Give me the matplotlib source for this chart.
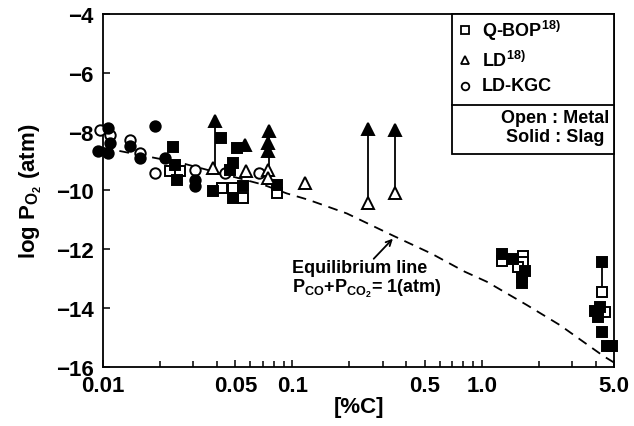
import matplotlib
matplotlib.use("Agg")
import matplotlib.pyplot as plt
from matplotlib.patches import Rectangle

plt.rcParams["font.family"] = ["Liberation Sans", "DejaVu Sans"]
plt.rcParams["font.weight"] = "bold"
plt.rcParams["mathtext.fontset"] = "custom"
plt.rcParams["mathtext.rm"] = "Liberation Sans:bold"
plt.rcParams["mathtext.bf"] = "Liberation Sans:bold"
plt.rcParams["mathtext.it"] = "Liberation Sans:bold"
plt.rcParams["mathtext.default"] = "rm"
plt.rcParams["lines.scale_dashes"] = False

# ---- data ----
# Q-BOP (squares)
qbop_open_x = [0.0226, 0.0255, 0.0425, 0.0485, 0.0548, 0.083,
               1.275, 1.646, 1.646, 1.549, 4.32, 4.5]
qbop_open_y = [-9.35, -9.35, -9.93, -9.93, -10.27, -10.10,
               -12.39, -12.22, -12.42, -12.59, -13.44, -14.13]
qbop_solid_x = [0.0234, 0.0240, 0.0246, 0.0381, 0.0419, 0.0485, 0.0510,
                0.0485, 0.0468, 0.0548, 0.083,
                1.275, 1.457, 1.686, 1.626, 1.626,
                4.32, 3.95, 4.2, 4.1, 4.32, 4.6, 4.9]
qbop_solid_y = [-8.53, -9.15, -9.63, -10.03, -8.23, -10.27, -8.57,
                -9.05, -9.32, -9.86, -9.83,
                -12.15, -12.32, -12.73, -12.93, -13.14,
                -12.42, -14.09, -13.96, -14.30, -14.81, -15.28, -15.28]

# LD (triangles)
ld_open_x = [0.038, 0.0568, 0.0742, 0.0742, 0.1166, 0.25, 0.35]
ld_open_y = [-9.25, -9.35, -9.32, -9.59, -9.76, -10.44, -10.10]
ld_solid_x = [0.039, 0.0562, 0.0751, 0.0742, 0.0742, 0.25, 0.35]
ld_solid_y = [-7.65, -8.47, -7.99, -8.40, -8.67, -7.92, -7.95]

# LD-KGC (circles)
kgc_open_x = [0.0096, 0.0109, 0.0139, 0.0157, 0.0188, 0.0306, 0.0440, 0.0665]
kgc_open_y = [-7.96, -8.13, -8.30, -8.74, -9.42, -9.32, -9.42, -9.42]
kgc_solid_x = [0.0106, 0.0109, 0.0094, 0.0106, 0.0139, 0.0157, 0.0188,
               0.0213, 0.0306, 0.0306]
kgc_solid_y = [-7.89, -8.40, -8.67, -8.74, -8.50, -8.91, -7.82,
               -8.91, -9.63, -9.86]

# metal/slag pairs joined by a vertical line: (x, top, bottom)
links = [(0.039, -7.65, -9.25), (0.0751, -7.99, -9.59),
         (0.25, -7.92, -10.44), (0.35, -7.95, -10.10),
         (4.32, -12.42, -13.44)]

# equilibrium line, P_CO + P_CO2 = 1 atm
eq_x = [0.01, 0.01185, 0.02644, 0.0699, 0.0935, 0.1207, 0.1539, 0.1939,
        0.339, 0.5446, 0.8135, 1.063, 1.728, 2.58, 4.40, 5.0]
eq_y = [-8.55, -8.64, -9.08, -9.80, -10.10, -10.31, -10.55, -10.78,
        -11.53, -12.15, -12.76, -13.10, -13.89, -14.57, -15.63, -15.85]

xticks = [0.01, 0.05, 0.1, 0.5, 1.0, 5.0]
xtick_labels = ["0.01", "0.05", "0.1", "0.5", "1.0", "5.0"]
yticks = [-16, -14, -12, -10, -8, -6, -4]

fig = plt.figure(figsize=(6.34, 4.27), dpi=100)
ax = fig.add_axes([0.1625, 0.1382, 0.806, 0.8267])

ax.plot(eq_x, eq_y, color="black", lw=1.3, dashes=(7, 5))

for x, top, bot in links:
    ax.plot([x, x], [top, bot], color="black", lw=1.3, zorder=2)

mk = dict(ls="none", mec="black", mew=1.4, clip_on=False, zorder=3)
ax.plot(kgc_open_x, kgc_open_y, marker="o", ms=7.5, mfc="white", **mk)
ax.plot(kgc_solid_x, kgc_solid_y, marker="o", ms=7.5, mfc="black", **mk)
ax.plot(qbop_open_x, qbop_open_y, marker="s", ms=7, mfc="white", **mk)
ax.plot(qbop_solid_x, qbop_solid_y, marker="s", ms=7, mfc="black", **mk)
ax.plot(ld_open_x, ld_open_y, marker="^", ms=8, mfc="white", **mk)
ax.plot(ld_solid_x, ld_solid_y, marker="^", ms=8, mfc="black", **mk)

ax.annotate("Equilibrium line", xy=(0.3475, -11.57), xytext=(0.1, -12.63),
            fontsize=13, va="center", ha="left")
ax.annotate("", xy=(0.3475, -11.57), xytext=(0.2627, -12.39),
            arrowprops=dict(arrowstyle="->", color="black", lw=1.3))
ax.text(0.1, -13.31, r"P$_{CO}$+P$_{CO_2}$= 1(atm)", fontsize=13,
        va="center", ha="left")

ax.set_xscale("log")
ax.set_xlim(0.01, 5.0)
ax.set_ylim(-16, -4)
ax.set_xticks(xticks, xtick_labels)
ax.set_yticks(yticks)
ax.tick_params(which="both", direction="in", labelsize=16, width=1.1)
ax.tick_params(which="major", length=5)
ax.tick_params(which="minor", length=4)
ax.tick_params(axis="x", pad=6)
ax.tick_params(axis="y", pad=7)
for s in ax.spines.values():
    s.set_linewidth(1.3)

ax.set_xlabel("[%C]", fontsize=16, fontweight="bold", labelpad=0)
ax.set_ylabel(r"log P$_{O_2}$ (atm)", fontsize=16, fontweight="bold",
              labelpad=8)

# legend box drawn by hand (with the Open/Solid note under a divider)
ax.add_patch(Rectangle((0.683, 0.603), 0.317, 0.397, transform=ax.transAxes,
                       facecolor="white", edgecolor="black", lw=1.3,
                       zorder=5, clip_on=False))
ax.plot([0.683, 1.0], [0.742, 0.742], transform=ax.transAxes, color="black",
        lw=1.3, zorder=6, clip_on=False)
leg_rows = [("s", r"Q-BOP$^{18)}$", 0.955), ("^", r"LD$^{18)}$", 0.870),
            ("o", "LD-KGC", 0.796)]
for m, label, yy in leg_rows:
    ax.plot([0.708], [yy], marker=m, ms=5.5, mfc="white", mec="black",
            mew=1.3, transform=ax.transAxes, zorder=6, clip_on=False)
    ax.text(0.742, yy, label, transform=ax.transAxes, fontsize=13,
            va="center", ha="left", zorder=6)
ax.text(0.885, 0.708, "Open : Metal", transform=ax.transAxes, fontsize=13,
        va="center", ha="center", zorder=6)
ax.text(0.885, 0.654, "Solid : Slag", transform=ax.transAxes, fontsize=13,
        va="center", ha="center", zorder=6)

fig.savefig("out.png", dpi=100)
